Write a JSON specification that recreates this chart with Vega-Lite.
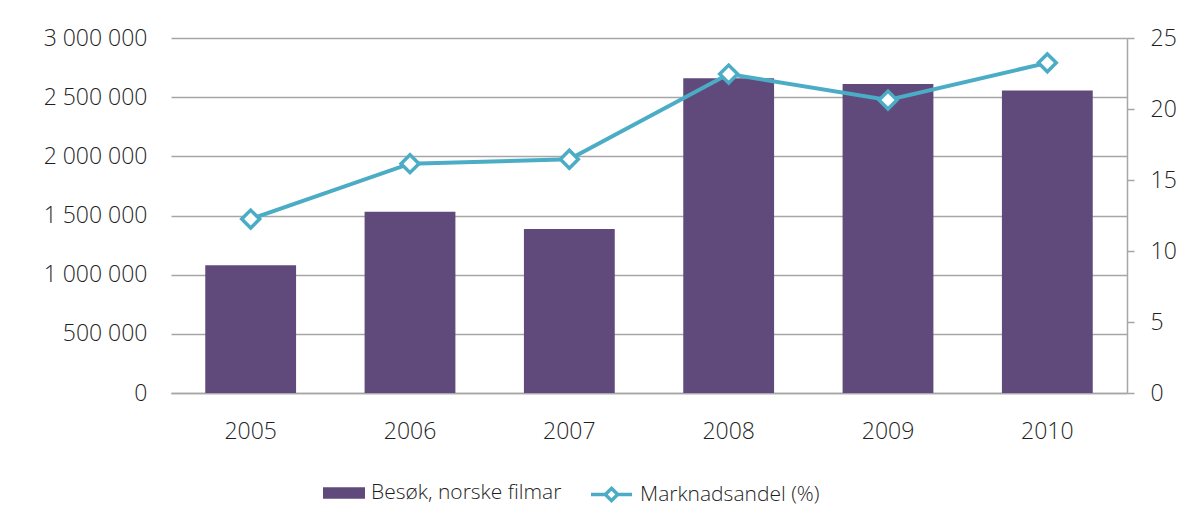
{
  "$schema": "https://vega.github.io/schema/vega-lite/v6.json",
  "autosize": "none",
  "width": 956,
  "height": 355,
  "padding": {"left": 171, "top": 38, "right": 76, "bottom": 128},
  "background": "white",
  "config": {
    "font": "Open Sans",
    "view": {"stroke": null},
    "axis": {"labelFont": "Open Sans", "labelFontSize": 23, "labelFontWeight": 300, "labelColor": "#1F1F1F", "gridColor": "#A6A6A6", "gridWidth": 1.5, "domainColor": "#A6A6A6", "domainWidth": 1.5, "tickColor": "#A6A6A6", "tickWidth": 1.5},
    "legend": {"labelFont": "Open Sans", "labelFontSize": 21, "labelFontWeight": 300, "labelColor": "#1F1F1F", "padding": 0, "labelLimit": 0}
  },
  "data": {
    "values": [
      {"year": "2005", "besok": 1080000, "andel": 12.25, "b": "Besøk, norske filmar", "m": "Marknadsandel (%)"},
      {"year": "2006", "besok": 1531000, "andel": 16.15, "b": "Besøk, norske filmar", "m": "Marknadsandel (%)"},
      {"year": "2007", "besok": 1386000, "andel": 16.46, "b": "Besøk, norske filmar", "m": "Marknadsandel (%)"},
      {"year": "2008", "besok": 2659000, "andel": 22.46, "b": "Besøk, norske filmar", "m": "Marknadsandel (%)"},
      {"year": "2009", "besok": 2611000, "andel": 20.63, "b": "Besøk, norske filmar", "m": "Marknadsandel (%)"},
      {"year": "2010", "besok": 2556000, "andel": 23.25, "b": "Besøk, norske filmar", "m": "Marknadsandel (%)"}
    ]
  },
  "encoding": {
    "x": {
      "field": "year", "type": "ordinal",
      "scale": {"paddingInner": 0.43, "paddingOuter": 0.215},
      "axis": {"title": null, "labelAngle": 0, "ticks": false, "labelPadding": 27, "domain": true}
    }
  },
  "layer": [
    {
      "mark": {"type": "bar", "color": "#5F4A7B"},
      "encoding": {
        "y": {
          "field": "besok", "type": "quantitative",
          "scale": {"domain": [0, 3000000], "nice": false},
          "axis": {"title": null, "orient": "left", "values": [0, 500000, 1000000, 1500000, 2000000, 2500000, 3000000], "domain": false, "ticks": false, "labelPadding": 24, "labelExpr": "join(split(format(datum.value, ','), ','), ' ')"}
        },
        "fill": {
          "field": "b", "type": "nominal",
          "scale": {"range": ["#5F4A7B"]},
          "legend": {"title": null, "orient": "none", "legendX": 152, "legendY": 434, "symbolType": "M-1,-0.27H1V0.27H-1Z", "symbolSize": 1764, "symbolStrokeWidth": 0, "symbolOpacity": 1, "labelOffset": 6}
        }
      }
    },
    {
      "layer": [
        {
          "mark": {"type": "line", "strokeWidth": 4, "color": "#4BACC6"},
          "encoding": {
            "y": {"field": "andel", "type": "quantitative"},
            "stroke": {
              "field": "m", "type": "nominal",
              "scale": {"range": ["#4BACC6"]},
              "legend": {"title": null, "orient": "none", "legendX": 418, "legendY": 434, "symbolType": "M-1,0H-0.3M0.3,0H1M0,-0.3L0.3,0L0,0.3L-0.3,0Z", "symbolSize": 1681, "symbolStrokeWidth": 3.5, "symbolFillColor": "white", "labelOffset": 6}
            }
          }
        },
        {
          "mark": {"type": "point", "shape": "diamond", "size": 320, "filled": true, "fill": "white", "stroke": "#4BACC6", "strokeWidth": 3.5, "opacity": 1},
          "encoding": {
            "y": {
              "field": "andel", "type": "quantitative",
              "scale": {"domain": [0, 25], "nice": false},
              "axis": {"title": null, "orient": "right", "values": [0, 5, 10, 15, 20, 25], "grid": false, "domain": true, "ticks": true, "tickSize": 7, "labelPadding": 16}
            }
          }
        }
      ]
    }
  ],
  "resolve": {"scale": {"y": "independent", "fill": "independent", "stroke": "independent"}}
}
